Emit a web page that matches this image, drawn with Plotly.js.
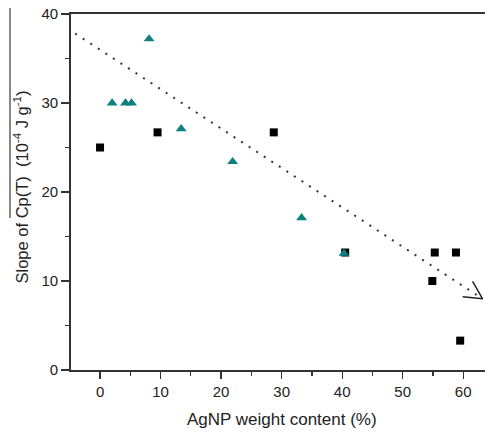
<!DOCTYPE html>
<html>
<head>
<meta charset="utf-8">
<script src="https://cdn.plot.ly/plotly-3.0.1.min.js"></script>
<style>html,body{margin:0;padding:0;background:#fff;}#chart{width:485px;height:432px;}</style>
</head>
<body>
<div id="chart"></div>
<script>
// Black squares
var squareX = [0, 9.5, 28.7, 40.5, 55.3, 58.8, 54.9, 59.5];
var squareY = [25.0, 26.7, 26.7, 13.2, 13.2, 13.2, 10.0, 3.3];
// Teal triangles
var triX = [2.0, 4.2, 5.2, 8.1, 13.4, 21.9, 33.3, 40.3];
var triY = [30.0, 30.0, 30.0, 37.2, 27.1, 23.4, 17.1, 13.1];
// Dotted trend arrow (start, tip)
var trendX = [-4.1, 63.2];
var trendY = [37.8, 8.0];
// Axis ticks
var xTicks = [0, 10, 20, 30, 40, 50, 60];
var yTicks = [0, 10, 20, 30, 40];

var xRange = [-4.8, 63.6];
var yRange = [0, 40];
var plotW = 485 - 71, plotH = 432 - 14 - 62;

// arrowhead wings computed from the trend direction in pixel space
var sx = plotW / (xRange[1] - xRange[0]);
var sy = plotH / (yRange[1] - yRange[0]);
var n = trendX.length;
var dxp = (trendX[n - 2] - trendX[n - 1]) * sx;
var dyp = (trendY[n - 2] - trendY[n - 1]) * sy;
var len = Math.sqrt(dxp * dxp + dyp * dyp);
var ux = dxp / len, uy = dyp / len;
var headLen = 20, headAng = 27 * Math.PI / 180;
function wing(sign) {
  var a = sign * headAng;
  var rx = ux * Math.cos(a) - uy * Math.sin(a);
  var ry = ux * Math.sin(a) + uy * Math.cos(a);
  return [trendX[n - 1] + rx * headLen / sx, trendY[n - 1] + ry * headLen / sy];
}
var w1 = wing(1), w2 = wing(-1);

var font = 'Arial, "Liberation Sans", sans-serif';

var traces = [
  {
    x: trendX, y: trendY, mode: 'lines', type: 'scatter',
    line: {color: '#333', width: 2, dash: '2px,7px'},
    hoverinfo: 'skip', showlegend: false, cliponaxis: false
  },
  {
    x: [w1[0], trendX[n - 1], w2[0]], y: [w1[1], trendY[n - 1], w2[1]],
    mode: 'lines', type: 'scatter',
    line: {color: '#222', width: 1.5},
    hoverinfo: 'skip', showlegend: false, cliponaxis: false
  },
  {
    x: squareX, y: squareY, mode: 'markers', type: 'scatter',
    marker: {symbol: 'square', size: 8, color: '#000'},
    showlegend: false, cliponaxis: false
  },
  {
    x: triX, y: triY, mode: 'markers', type: 'scatter',
    marker: {symbol: 'triangle-up', size: 9.5, color: '#0f8080'},
    showlegend: false, cliponaxis: false
  }
];

var layout = {
  width: 485, height: 432,
  margin: {l: 71, r: 0, t: 14, b: 62, pad: 0},
  paper_bgcolor: '#fff', plot_bgcolor: '#fff',
  font: {family: font, color: '#222', size: 15},
  showlegend: false,
  xaxis: {
    range: xRange, tickvals: xTicks, ticktext: xTicks.map(String),
    showgrid: false, zeroline: false,
    showline: true, linecolor: '#333', linewidth: 1.8, mirror: true,
    ticks: 'outside', ticklen: 7, tickwidth: 1.3, tickcolor: '#333',
    minor: {dtick: 5, tick0: 0, ticks: 'outside', ticklen: 4, tickwidth: 1.3, tickcolor: '#333', showgrid: false},
    tickfont: {size: 15, color: '#222'}
  },
  yaxis: {
    range: yRange, tickvals: yTicks, ticktext: yTicks.map(String),
    showgrid: false, zeroline: false,
    showline: true, linecolor: '#333', linewidth: 1.8,
    ticks: 'outside', ticklen: 8, tickwidth: 1.3, tickcolor: '#333',
    minor: {dtick: 5, tick0: 0, ticks: 'outside', ticklen: 4, tickwidth: 1.3, tickcolor: '#333', showgrid: false},
    tickfont: {size: 15, color: '#222'}
  },
  annotations: [
    {
      text: 'Slope of Cp(T)  (10<sup>-4</sup> J g<sup>-1</sup>)',
      xref: 'paper', yref: 'paper',
      x: (21 - 71) / plotW, y: (370 - 187.5) / plotH,
      xanchor: 'center', yanchor: 'middle', textangle: -90, showarrow: false,
      font: {family: font, size: 16.5, color: '#222'}
    },
    {
      text: 'AgNP weight content (%)',
      xref: 'paper', yref: 'paper',
      x: (281.5 - 71) / plotW, y: (370 - 419) / plotH,
      xanchor: 'center', yanchor: 'middle', showarrow: false,
      font: {family: font, size: 17, color: '#222'}
    }
  ],
  shapes: [
    {
      type: 'line', xref: 'paper', yref: 'paper',
      x0: (10 - 71) / plotW, x1: (10 - 71) / plotW,
      y0: (370 - 8) / plotH, y1: (370 - 218) / plotH,
      line: {color: '#111', width: 1}
    }
  ]
};

Plotly.newPlot('chart', traces, layout, {displayModeBar: false, staticPlot: true});
</script>
</body>
</html>
